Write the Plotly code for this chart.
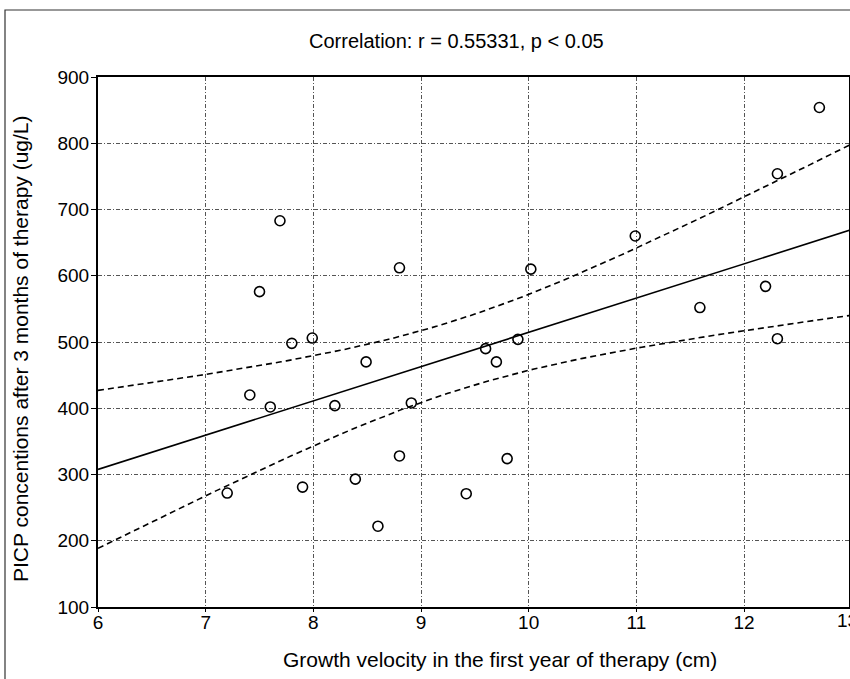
import numpy as np
import plotly.graph_objects as go

# Data
growth_velocity = [7.69, 7.50, 7.80, 7.99, 8.49, 7.41, 7.60, 8.20, 7.20, 7.90, 8.39, 8.60,
                   8.80, 10.02, 9.60, 9.90, 9.70, 8.91, 8.80, 9.80, 9.42,
                   12.70, 12.31, 10.99, 12.20, 11.59, 12.31]
picp = [683, 576, 498, 506, 470, 420, 402, 404, 272, 281, 293, 222,
        612, 610, 490, 504, 470, 408, 328, 324, 271,
        854, 754, 660, 584, 552, 505]
x_ticks = [6, 7, 8, 9, 10, 11, 12, 13]
y_ticks = [100, 200, 300, 400, 500, 600, 700, 800, 900]

title_text = "Correlation: r = 0.55331, p < 0.05"
x_title = "Growth velocity in the first year of therapy (cm)"
y_title = "PICP concentions after 3 months of therapy (ug/L)"

# Linear regression with 95% confidence band for the mean
x = np.array(growth_velocity, dtype=float)
y = np.array(picp, dtype=float)
n = len(x)
xm, ym = x.mean(), y.mean()
sxx = ((x - xm) ** 2).sum()
slope = ((x - xm) * (y - ym)).sum() / sxx
intercept = ym - slope * xm
resid = y - (intercept + slope * x)
s = np.sqrt((resid ** 2).sum() / (n - 2))
t_crit = 2.0595  # t(0.975, 25)
xf = np.linspace(6, 13, 141)
yf = intercept + slope * xf
half = t_crit * s * np.sqrt(1.0 / n + (xf - xm) ** 2 / sxx)

FONT = "Liberation Sans, Arial, sans-serif"

fig = go.Figure()
fig.add_trace(go.Scatter(x=xf, y=yf + half, mode="lines",
                         line=dict(color="black", width=1.6, dash="6px,4px"),
                         hoverinfo="skip", showlegend=False))
fig.add_trace(go.Scatter(x=xf, y=yf - half, mode="lines",
                         line=dict(color="black", width=1.6, dash="6px,4px"),
                         hoverinfo="skip", showlegend=False))
fig.add_trace(go.Scatter(x=xf, y=yf, mode="lines",
                         line=dict(color="black", width=1.6),
                         hoverinfo="skip", showlegend=False))
fig.add_trace(go.Scatter(x=growth_velocity, y=picp, mode="markers",
                         marker=dict(symbol="circle-open", size=10, color="black",
                                     line=dict(width=1.6, color="black")),
                         showlegend=False))

W, H = 850, 679
L, R, T, B = 98, 1, 77, 72
plot_w = W - L - R
plot_h = H - T - B
px_per_unit = 107.67
x_end = 6 + plot_w / px_per_unit

fig.update_layout(
    width=W, height=H,
    margin=dict(l=L, r=R, t=T, b=B, autoexpand=False),
    paper_bgcolor="white", plot_bgcolor="white",
    font=dict(family=FONT, color="black", size=19),
    xaxis=dict(range=[6, x_end], tickvals=x_ticks, ticktext=[str(v) for v in x_ticks],
               automargin=False,
               showline=True, linecolor="black", linewidth=2, mirror=True,
               ticks="outside", ticklen=3, tickcolor="black",
               ticklabelstandoff=-6,
               showgrid=True, gridcolor="#555555", gridwidth=1,
               griddash="4px,2px,1px,2px", zeroline=False,
               tickfont=dict(size=19)),
    yaxis=dict(range=[100, 900], tickvals=y_ticks, automargin=False,
               showline=True, linecolor="black", linewidth=2, mirror=True,
               ticks="outside", ticklen=5, tickcolor="black",
               ticklabelstandoff=-2,
               showgrid=True, gridcolor="#555555", gridwidth=1,
               griddash="4px,2px,1px,2px", zeroline=False,
               tickfont=dict(size=19)),
)

def px_to_paper_x(px):
    return (px - L) / plot_w

def px_to_paper_y(py):
    return (H - B - py) / plot_h

# titles placed as text at the reference positions
fig.add_annotation(x=px_to_paper_x(456), y=px_to_paper_y(41), xref="paper", yref="paper",
                   text=title_text, showarrow=False, xanchor="center", yanchor="middle",
                   font=dict(size=20, family=FONT))
fig.add_annotation(x=px_to_paper_x(500), y=px_to_paper_y(659), xref="paper", yref="paper",
                   text=x_title, showarrow=False, xanchor="center", yanchor="middle",
                   font=dict(size=21, family=FONT))
fig.add_annotation(x=px_to_paper_x(20), y=px_to_paper_y(349), xref="paper", yref="paper",
                   text=y_title, showarrow=False, xanchor="center", yanchor="middle",
                   textangle=-90, font=dict(size=21, family=FONT))

# outer frame of the figure
fig.add_shape(type="rect", xref="paper", yref="paper",
              x0=px_to_paper_x(5), x1=px_to_paper_x(900),
              y0=px_to_paper_y(720), y1=px_to_paper_y(10),
              line=dict(color="#333333", width=1.2), fillcolor="rgba(0,0,0,0)",
              layer="below")
# partially visible "13" tick label at the clipped right edge
fig.add_annotation(x=px_to_paper_x(98 + 7 * px_per_unit), xref="paper",
                   y=px_to_paper_y(620), yref="paper", yanchor="middle", xanchor="center",
                   xshift=-4,
                   text="13", showarrow=False, font=dict(size=19, family=FONT))

fig.write_html("out.html", config={"displayModeBar": False},
               post_script="document.body.style.margin='0';document.body.style.overflow='hidden';")
